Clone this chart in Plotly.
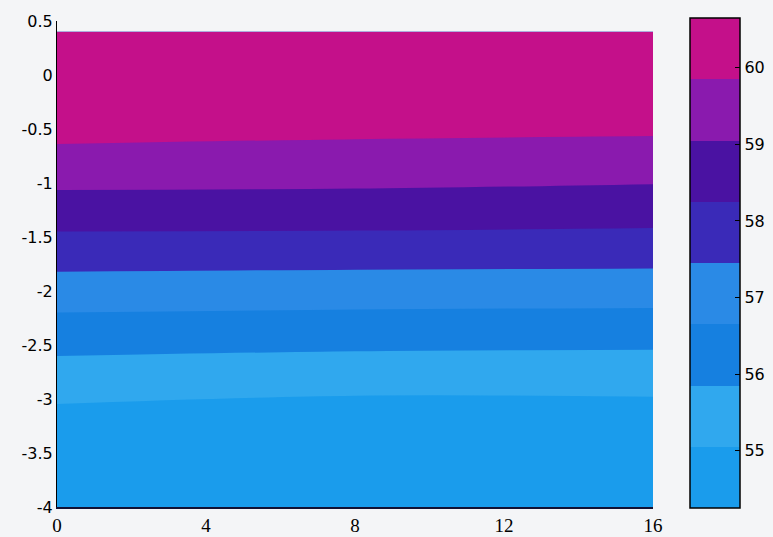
import plotly.graph_objects as go

# grid (distance along x, depth y) and field values
x_pos = [0, 8, 16]
y_depth = [0.4, -0.4, -0.8, -1.2, -1.6, -2.0, -2.4, -2.8, -3.2, -3.6, -4.0]
z_x0 = [60.5, 60.28, 59.56, 58.79, 57.92, 57.07, 56.23, 55.48, 54.78, 54.6, 54.45]
z_x8 = [60.5, 60.17, 59.51, 58.78, 57.90, 57.01, 56.17, 55.36, 54.63, 54.45, 54.35]
z_x16 = [60.5, 60.14, 59.44, 58.70, 57.87, 56.99, 56.12, 55.37, 54.66, 54.45, 54.35]

level_start = 55.05
level_end = 59.85
level_step = 0.8
cb_min = 54.25
cb_max = 60.65

band_colors = ["#1A9CEC", "#30A8EE", "#1680E0", "#2A8AE6",
               "#3A2AB8", "#4A12A2", "#8A1AAE", "#C4108A"]

x_ticks = [0, 4, 8, 12, 16]
y_ticks = [0.5, 0, -0.5, -1, -1.5, -2, -2.5, -3, -3.5, -4]
y_ticklabels = ["0.5", "0", "-0.5", "-1", "-1.5", "-2", "-2.5", "-3", "-3.5", "-4"]
cb_ticks = [55, 56, 57, 58, 59, 60]

z = [[a, b, c] for a, b, c in zip(z_x0, z_x8, z_x16)]
n = len(band_colors)
fill_scale = [[i / (n - 1), c] for i, c in enumerate(band_colors)]
step_scale = []
for i, c in enumerate(band_colors):
    step_scale.append([i / n, c])
    step_scale.append([(i + 1) / n, c])

fig = go.Figure()
fig.add_trace(go.Contour(
    x=x_pos, y=y_depth, z=z,
    contours=dict(start=level_start, end=level_end, size=level_step, coloring="fill"),
    colorscale=fill_scale,
    line=dict(width=0),
    showscale=False,
    hoverinfo="skip",
))
# colour key (single point placed off the visible range)
fig.add_trace(go.Scatter(
    x=[-10], y=[-10], mode="markers",
    marker=dict(
        color=[cb_min], cmin=cb_min, cmax=cb_max, colorscale=step_scale,
        showscale=True, size=1,
        colorbar=dict(
            x=1.062, xanchor="left", xpad=0,
            y=1.006, yanchor="top", len=1.008, lenmode="fraction", ypad=0,
            thickness=50, thicknessmode="pixels",
            outlinecolor="black", outlinewidth=1.5,
            ticks="inside", ticklen=5, tickcolor="black",
            tickvals=cb_ticks, ticktext=[str(v) for v in cb_ticks],
            tickfont=dict(family="DejaVu Sans", size=16, color="black"),
        ),
    ),
    hoverinfo="skip", showlegend=False,
))

fig.update_layout(
    width=773, height=537,
    margin=dict(l=57, r=120, t=21, b=30, autoexpand=False),
    paper_bgcolor="#F4F5F7",
    plot_bgcolor="#F4F5F7",
    showlegend=False,
)
fig.update_xaxes(
    range=[0, 16], tickvals=x_ticks, ticktext=[str(v) for v in x_ticks],
    showgrid=False, zeroline=False, automargin=False,
    showline=True, linecolor="#111133", linewidth=2,
    ticks="", ticklabelstandoff=0,
    tickfont=dict(family="Liberation Serif, Times New Roman", size=19, color="black"),
)
fig.update_yaxes(
    range=[-4, 0.5], tickvals=y_ticks, ticktext=y_ticklabels,
    showgrid=False, zeroline=False, automargin=False,
    showline=True, linecolor="black", linewidth=1, mirror=False,
    ticks="inside", ticklen=5, tickcolor="black", layer="below traces",
    tickfont=dict(family="DejaVu Sans", size=16, color="black"),
)

fig.write_html(
    "out.html",
    config={"displayModeBar": False},
    post_script="document.body.style.margin='0';document.body.style.background='#F4F5F7';",
)
